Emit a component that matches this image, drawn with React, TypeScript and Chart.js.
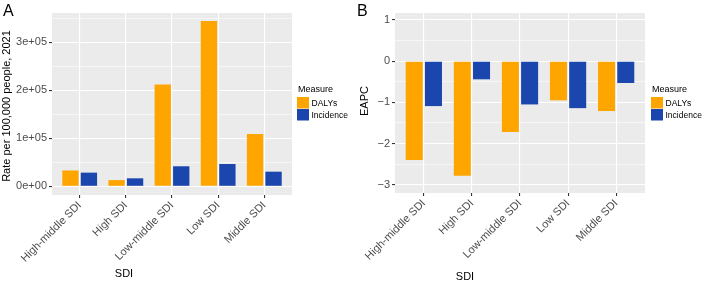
import React, { useEffect, useRef } from 'react';
import { Chart, registerables } from 'chart.js';
Chart.register(...registerables);

const categories = ['High-middle SDI', 'High SDI', 'Low-middle SDI', 'Low SDI', 'Middle SDI'];
const seriesNames = ['DALYs', 'Incidence'];
const seriesColors = ['#FFA500', '#1A46AE'];

const rateDALYs = [33000, 13000, 212000, 344000, 109000];
const rateIncidence = [28500, 16700, 41700, 46500, 30500];
const eapcDALYs = [-2.4, -2.78, -1.72, -0.95, -1.21];
const eapcIncidence = [-1.09, -0.44, -1.05, -1.14, -0.53];

const rateMajorTicks = [0, 100000, 200000, 300000];
const rateTickLabels = ['0e+00', '1e+05', '2e+05', '3e+05'];
const rateMinorTicks = [50000, 150000, 250000, 350000];
const eapcMajorTicks = [-3, -2, -1, 0, 1];
const eapcTickLabels = ['\u22123', '\u22122', '\u22121', '0', '1'];
const eapcMinorTicks = [-2.5, -1.5, -0.5, 0.5];

const FONT = "'Liberation Sans', Arial, Helvetica, sans-serif";

type PanelProps = {
  letter: string;
  yTitle: string;
  values: number[][];
  major: number[];
  majorLabels: string[];
  minor: number[];
  yMin: number;
  yMax: number;
  yAxisWidth: number;
  padRight: number;
  xAxisHeight: number;
  yTitleX: number;
  yTitleY: number;
  xTitleX: number;
  xTitleY: number;
  legendX: number;
  letterX: number;
  left: number;
};

function Panel(p: PanelProps) {
  const ref = useRef<HTMLCanvasElement | null>(null);
  useEffect(() => {
    const canvas = ref.current;
    if (!canvas) return;
    const isMajor = (v: number) => p.major.indexOf(v) >= 0;
    const deco = {
      id: 'deco',
      beforeDraw(chart: any) {
        const { ctx, chartArea: a } = chart;
        ctx.save();
        ctx.fillStyle = '#EBEBEB';
        ctx.fillRect(a.left, a.top, a.right - a.left, a.bottom - a.top);
        ctx.restore();
      },
      afterDraw(chart: any) {
        const { ctx } = chart;
        ctx.save();
        // panel letter
        ctx.fillStyle = '#000';
        ctx.font = `16px ${FONT}`;
        ctx.textAlign = 'left';
        ctx.textBaseline = 'alphabetic';
        ctx.fillText(p.letter, p.letterX, 15.5);
        // y title
        ctx.save();
        ctx.translate(p.yTitleX, p.yTitleY);
        ctx.rotate(-Math.PI / 2);
        ctx.font = `11px ${FONT}`;
        ctx.textAlign = 'center';
        ctx.textBaseline = 'middle';
        ctx.fillText(p.yTitle, 0, 0);
        ctx.restore();
        // x title
        ctx.font = `11px ${FONT}`;
        ctx.textAlign = 'center';
        ctx.textBaseline = 'middle';
        ctx.fillText('SDI', p.xTitleX, p.xTitleY);
        // legend
        ctx.textAlign = 'left';
        ctx.font = `9px ${FONT}`;
        ctx.fillStyle = '#000';
        ctx.fillText('Measure', p.legendX + 1, 90);
        seriesNames.forEach((name, i) => {
          const y = 97 + i * 12;
          ctx.fillStyle = seriesColors[i];
          ctx.fillRect(p.legendX, y, 12, 11.5);
          ctx.fillStyle = '#000';
          ctx.font = `8.5px ${FONT}`;
          ctx.fillText(name, p.legendX + 14.5, y + 6.5);
        });
        ctx.restore();
      },
    };
    const chart = new Chart(canvas, {
      type: 'bar',
      data: {
        datasets: seriesNames.map((name, s) => ({
          label: name,
          data: categories.map((_, i) => ({ x: i, y: p.values[s][i] })),
          backgroundColor: seriesColors[s],
          borderWidth: 0,
          categoryPercentage: 0.8,
          barPercentage: 0.885,
        })),
      },
      options: {
        responsive: false,
        animation: false,
        events: [],
        layout: { padding: { left: 0, top: 13, right: p.padRight, bottom: 0 } },
        plugins: { legend: { display: false }, tooltip: { enabled: false }, title: { display: false } },
        scales: {
          x: {
            type: 'linear',
            min: -0.6,
            max: 4.6,
            offset: false,
            afterBuildTicks: (scale: any) => {
              scale.ticks = categories.map((_, i) => ({ value: i }));
            },
            afterFit: (scale: any) => {
              scale.height = p.xAxisHeight;
            },
            border: { display: false },
            grid: {
              offset: false,
              color: '#FFFFFF',
              lineWidth: 1.1,
              tickColor: '#333333',
              tickLength: 3,
              tickWidth: 1.1,
            },
            ticks: {
              autoSkip: false,
              maxRotation: 45,
              minRotation: 45,
              padding: 1,
              color: '#4D4D4D',
              font: { family: FONT, size: 11 },
              callback: (v: any) => categories[Math.round(Number(v))] ?? '',
            },
          },
          y: {
            type: 'linear',
            min: p.yMin,
            max: p.yMax,
            afterBuildTicks: (scale: any) => {
              const all = [...p.major, ...p.minor].sort((a, b) => a - b);
              scale.ticks = all.map((v) => ({ value: v }));
            },
            afterFit: (scale: any) => {
              scale.width = p.yAxisWidth;
            },
            border: { display: false },
            grid: {
              color: '#FFFFFF',
              lineWidth: (ctx: any) => (ctx.tick && isMajor(ctx.tick.value) ? 1.1 : 0.55),
              tickColor: (ctx: any) => (ctx.tick && isMajor(ctx.tick.value) ? '#333333' : 'rgba(0,0,0,0)'),
              tickLength: 3,
              tickWidth: 1.1,
            },
            ticks: {
              autoSkip: false,
              padding: 2,
              color: '#4D4D4D',
              font: { family: FONT, size: 11 },
              callback: (v: any) => {
                const idx = p.major.indexOf(Number(v));
                return idx >= 0 ? p.majorLabels[idx] : '';
              },
            },
          },
        },
      },
      plugins: [deco],
    } as any);
    return () => chart.destroy();
  }, []);
  return (
    <canvas
      ref={ref}
      width={352}
      height={282}
      style={{ position: 'absolute', left: p.left, top: 0, width: 352, height: 282 }}
    />
  );
}

export default function App() {
  return (
    <div style={{ position: 'fixed', left: 0, top: 0, width: 704, height: 282, background: '#fff' }}>
      <Panel
        letter="A"
        yTitle="Rate per 100,000 people, 2021"
        values={[rateDALYs, rateIncidence]}
        major={rateMajorTicks}
        majorLabels={rateTickLabels}
        minor={rateMinorTicks}
        yMin={-18000}
        yMax={360500}
        yAxisWidth={52}
        padRight={60}
        xAxisHeight={87}
        yTitleX={7}
        yTitleY={106}
        xTitleX={124}
        xTitleY={274}
        legendX={297}
        letterX={3}
        left={0}
      />
      <Panel
        letter="B"
        yTitle="EAPC"
        values={[eapcDALYs, eapcIncidence]}
        major={eapcMajorTicks}
        majorLabels={eapcTickLabels}
        minor={eapcMinorTicks}
        yMin={-3.2}
        yMax={1.17}
        yAxisWidth={43}
        padRight={59}
        xAxisHeight={89}
        yTitleX={13}
        yTitleY={101}
        xTitleX={113}
        xTitleY={276.5}
        legendX={299}
        letterX={5}
        left={352}
      />
    </div>
  );
}
